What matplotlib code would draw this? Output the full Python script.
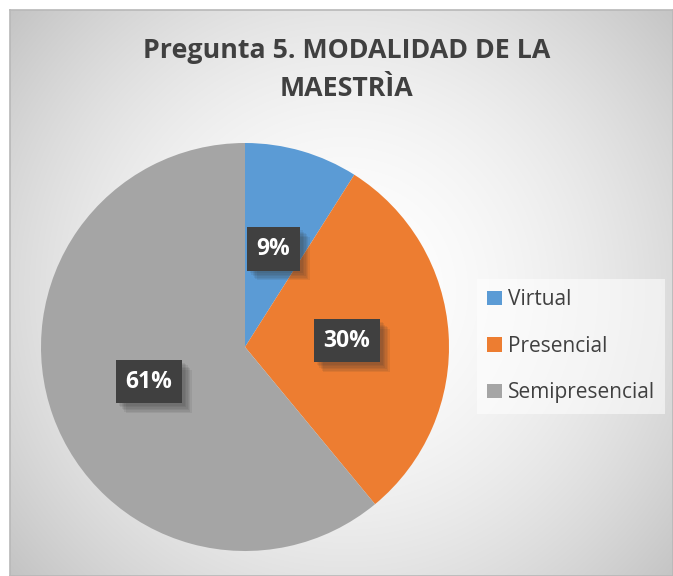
import numpy as np
import matplotlib
matplotlib.use("Agg")
import matplotlib.pyplot as plt
import matplotlib.patheffects as pe
from matplotlib.patches import Patch

title = "Pregunta 5. MODALIDAD DE LA\nMAESTRÌA"
labels = ["Virtual", "Presencial", "Semipresencial"]
values = [9, 30, 61]
colors = ["#5B9BD5", "#ED7D31", "#A5A5A5"]

W, H = 673, 576
fig = plt.figure(figsize=(W / 100, H / 100), dpi=100)
fig.patch.set_facecolor("white")

# chart area with radial gradient background
bg = fig.add_axes([10 / W, 0, (W - 10) / W, (H - 10) / H])
yy, xx = np.mgrid[10:H, 10:W]
d = np.hypot(xx - 345, yy - 290) / 435.0
shade = 1 - 0.23 * np.clip(d, 0, 1.1) ** 1.8
bg.imshow(np.dstack([shade] * 3), aspect="auto", extent=[0, 1, 0, 1])
bg.set_xticks([])
bg.set_yticks([])
for s in bg.spines.values():
    s.set_color("#b8b8b8")
    s.set_linewidth(1.2)

fig.text(347 / W, 1 - 70 / H, title, ha="center", va="center",
         fontsize=19.3, fontweight="bold", color="#404040",
         family="Open Sans", linespacing=1.65)

# pie
cx, cy, r = 245, 347, 204
ax = fig.add_axes([(cx - r) / W, (H - cy - r) / H, 2 * r / W, 2 * r / H])
wedges, _, autotexts = ax.pie(values, colors=colors, startangle=90, counterclock=False,
                              autopct="%1.0f%%", pctdistance=0.5, radius=1,
                              wedgeprops=dict(linewidth=0))
ax.set_xlim(-1, 1)
ax.set_ylim(-1, 1)
ax.set_aspect("auto")

shadows = [pe.SimplePatchShadow(offset=(o, -o), shadow_rgbFace="#303030", alpha=0.09)
           for o in (2, 3, 4, 5, 6, 7)]
for t in autotexts:
    t.set_color("white")
    t.set_fontsize(16.5)
    t.set_fontweight("bold")
    t.set_family("Open Sans")
    t.set_bbox(dict(boxstyle="square,pad=0.42", facecolor="#404040", edgecolor="none"))
    t.get_bbox_patch().set_path_effects(shadows + [pe.Normal()])

handles = [Patch(facecolor=c, edgecolor="none") for c in colors]
leg = fig.legend(handles, labels, loc="upper left",
                 bbox_to_anchor=(477 / W, 1 - 279 / H),
                 frameon=True, handlelength=0.68, handleheight=0.68,
                 handletextpad=0.3, labelspacing=1.22, borderpad=0.5,
                 borderaxespad=0, prop=dict(family="Open Sans", size=15))
leg.get_frame().set_facecolor("white")
leg.get_frame().set_alpha(0.55)
leg.get_frame().set_edgecolor("none")
leg.get_frame().set_boxstyle("square", pad=0)
for txt in leg.get_texts():
    txt.set_color("#404040")

fig.savefig("out.png", dpi=100)
